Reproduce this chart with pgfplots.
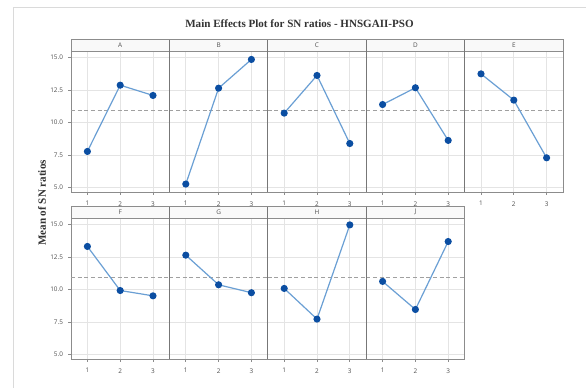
\documentclass[border=0pt]{standalone}
\usepackage{fontspec}
\setmainfont{Liberation Serif}
\setsansfont{Open Sans}
\usepackage{pgfplots}
\pgfplotsset{compat=1.18}
\definecolor{linecol}{HTML}{6A9FD4}
\definecolor{markcol}{HTML}{0B4EA2}
\definecolor{framecol}{HTML}{8C8C8C}
\definecolor{gridcol}{HTML}{E4E4E4}
\definecolor{ticklab}{HTML}{505050}
\definecolor{outer}{HTML}{DADADA}
\definecolor{meancol}{HTML}{A0A0A0}
\pgfplotsset{panel/.style={
  scale only axis, width=73.8pt, height=105.75pt,
  xmin=0.5, xmax=3.5, ymin=4.65, ymax=15.5,
  xtick={1,2,3}, ytick={5,7.5,10,12.5,15},
  grid=major, major grid style={gridcol, line width=0.6pt},
  axis line style={framecol, line width=0.6pt},
  tick style={framecol, line width=0.5pt}, tick align=outside, major tick length=2pt,
  tick pos=left,
  /pgf/number format/assume math mode=true,
  tick label style={font=\sffamily\fontsize{4.8}{5}\selectfont, text=ticklab},
  yticklabel style={/pgf/number format/fixed, /pgf/number format/fixed zerofill, /pgf/number format/precision=1, xshift=-0.5pt},
  xticklabel style={yshift=-1.5pt},
  clip=false,
}, inner/.style={yticklabels={}, ytick style={draw=none}}}
\newcommand{\panel}[6]{%
\begin{axis}[panel, at={(#1pt,#2pt)}, anchor=north west, #6]
\addplot[meancol, line width=0.7pt, dash pattern=on 3pt off 2pt] coordinates {(0.5,10.92) (3.5,10.92)};
\addplot[linecol, line width=0.9pt, mark=*, mark size=2.2pt, mark options={draw=markcol, fill=markcol}] coordinates {(1,#3) (2,#4) (3,#5)};
\end{axis}}
\newcommand{\strip}[3]{% left x pt, bottom y pt, label
\draw[framecol, line width=0.6pt, fill=gray!5] (#1pt,#2pt) rectangle ++(73.8pt,8.6pt);
\node[font=\sffamily\fontsize{4.8}{5}\selectfont, text=ticklab] at ({#1pt+36.9pt},{#2pt+4.3pt}) {#3};}
\begin{document}
\begin{tikzpicture}
\fill[white] (0,0) rectangle (439.5pt,291pt);
\useasboundingbox (0,0) rectangle (439.5pt,291pt);
\draw[outer, line width=0.6pt] (9.75pt,0) -- (9.75pt,285.75pt) -- (439.5pt,285.75pt);
% top row
\panel{53.25}{252.75}{7.77}{12.87}{12.08}{}
\panel{127.05}{252.75}{5.26}{12.64}{14.85}{inner}
\panel{200.85}{252.75}{10.72}{13.62}{8.38}{inner}
\panel{274.65}{252.75}{11.38}{12.67}{8.62}{inner}
\panel{348.45}{252.75}{13.74}{11.72}{7.28}{inner}
% bottom row
\panel{53.25}{127.5}{13.31}{9.92}{9.51}{}
\panel{127.05}{127.5}{12.64}{10.36}{9.75}{inner}
\panel{200.85}{127.5}{10.08}{7.72}{14.97}{inner}
\panel{274.65}{127.5}{10.62}{8.46}{13.69}{inner}
% strips
\strip{53.25}{252.75}{A}
\strip{127.05}{252.75}{B}
\strip{200.85}{252.75}{C}
\strip{274.65}{252.75}{D}
\strip{348.45}{252.75}{E}
\strip{53.25}{127.5}{F}
\strip{127.05}{127.5}{G}
\strip{200.85}{127.5}{H}
\strip{274.65}{127.5}{J}
% dividers
\foreach \xx in {127.05,200.85,274.65,348.45}
  \draw[framecol!85!black, line width=0.9pt] (\xx pt,147pt) -- (\xx pt,261.35pt);
\foreach \xx in {127.05,200.85,274.65}
  \draw[framecol!85!black, line width=0.9pt] (\xx pt,21.75pt) -- (\xx pt,136.1pt);
% title and y label
\node[font=\bfseries\fontsize{8.3}{10}\selectfont, text=black!80] at (224.6pt,273pt) {Main Effects Plot for SN ratios - HNSGAII-PSO};
\node[font=\bfseries\fontsize{8.3}{10}\selectfont, text=black!80, rotate=90] at (31.5pt,138.75pt) {Mean of SN ratios};
\end{tikzpicture}
\end{document}
